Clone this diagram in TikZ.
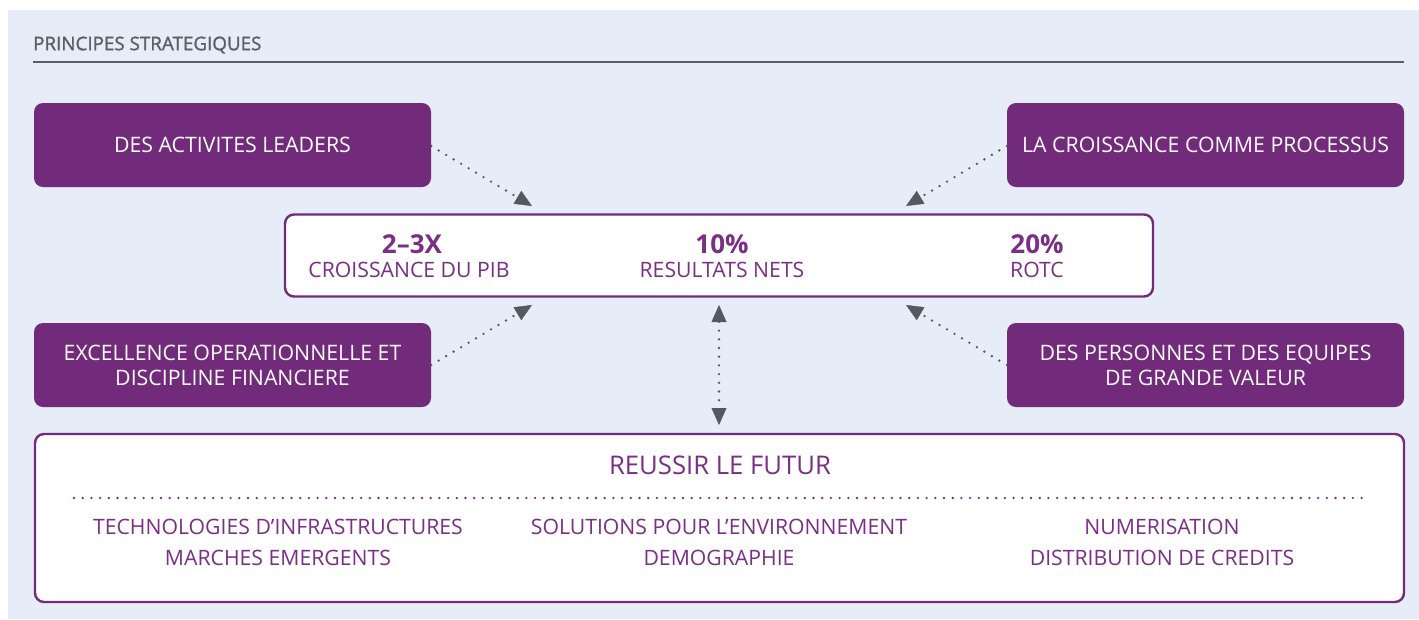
\documentclass[tikz,border=0pt]{standalone}
\usepackage{fontspec}
\setmainfont{Open Sans}
\newfontfamily\headfont[FakeBold=1.3]{Open Sans}
\usetikzlibrary{arrows.meta}
\definecolor{panel}{HTML}{E6EDF8}
\definecolor{plum}{HTML}{722A7A}
\definecolor{plumtext}{HTML}{7A2E85}
\definecolor{arrowgray}{HTML}{55595F}
\definecolor{headgray}{HTML}{5B5F64}
\begin{document}
\begin{tikzpicture}[x=1pt,y=-1pt,
  pillar/.style={fill=plum, draw=none, rounded corners=9pt, text=white,
    minimum width=397pt, minimum height=84pt, align=center, inner sep=0pt,
    font=\fontsize{21.3}{25}\selectfont},
  framebox/.style={fill=white, draw=plum, line width=2.4pt, rounded corners=9pt, inner sep=0pt},
  figure/.style={text=plumtext, font=\fontsize{26}{29}\selectfont\bfseries, inner sep=0pt},
  caption/.style={text=plumtext, font=\fontsize{21.2}{31}\selectfont, align=center, inner sep=0pt},
  flow/.style={draw=arrowgray, line width=2.6pt, line cap=round, dash pattern=on 0pt off 8.7pt,
    -{Triangle[length=17pt,width=15pt,line width=0.4pt]}},
  flowboth/.style={flow, {Triangle[length=17pt,width=15pt,line width=0.4pt]}-{Triangle[length=17pt,width=15pt,line width=0.4pt]}}
]
\useasboundingbox (0,0) rectangle (1419,619);
\fill[white] (0,0) rectangle (1419,619);
\fill[panel] (8,10) rectangle (1419,619);

% heading and rule
\node[anchor=west, text=headgray, inner sep=0pt, font=\fontsize{18.8}{22}\headfont] (title) at (33,45) {PRINCIPES STRATEGIQUES};
\draw[headgray, line width=1.5pt] (33,62) -- (1404,62);

% the four pillars
\node[pillar] (lead) at (232.5,145) {DES ACTIVITES LEADERS};
\node[pillar] (growth) at (1205.5,145) {LA CROISSANCE COMME PROCESSUS};
\node[pillar] (excel) at (232.5,365) {EXCELLENCE OPERATIONNELLE ET\\DISCIPLINE FINANCIERE};
\node[pillar] (people) at (1205.5,365) {DES PERSONNES ET DES EQUIPES\\DE GRANDE VALEUR};

% targets box
\node[framebox, minimum width=868pt, minimum height=82pt] (targets) at (719,255.5) {};
\node[figure] (gdp) at (412,244) {2–3X};
\node[caption] (gdpcap) at (409,270) {CROISSANCE DU PIB};
\node[figure] (net) at (722,244) {10\%};
\node[caption] (netcap) at (722,270) {RESULTATS NETS};
\node[figure] (rotc) at (1037,244) {20\%};
\node[caption] (rotccap) at (1037,270) {ROTC};

% future box
\node[framebox, minimum width=1369pt, minimum height=168pt] (future) at (719.5,518) {};
\node[text=plumtext, inner sep=0pt, font=\fontsize{25.7}{30}\selectfont] (futtitle) at (720,465) {REUSSIR LE FUTUR};
\draw[plumtext, line width=2.6pt, line cap=round, dash pattern=on 0pt off 8.7pt] (74,498) -- (1366,498);
\node[caption] (col1) at (278,542.5) {TECHNOLOGIES D’INFRASTRUCTURES\\MARCHES EMERGENTS};
\node[caption] (col2) at (719,542.5) {SOLUTIONS POUR L’ENVIRONNEMENT\\DEMOGRAPHIE};
\node[caption] (col3) at (1162,542.5) {NUMERISATION\\DISTRIBUTION DE CREDITS};

% connectors
\coordinate (tipA) at (532,206);
\coordinate (tipB) at (906,206);
\coordinate (tipC) at (532,305);
\coordinate (tipD) at (906,305);
\coordinate (upTip) at (719,305);
\coordinate (downTip) at (719,425);
\draw[flow] (lead.east |- 0,146) -- (tipA);
\draw[flow] (growth.west |- 0,146) -- (tipB);
\draw[flow] (excel.east |- 0,365) -- (tipC);
\draw[flow] (people.west |- 0,365) -- (tipD);
\draw[flowboth] (upTip) -- (downTip);
\end{tikzpicture}
\end{document}
